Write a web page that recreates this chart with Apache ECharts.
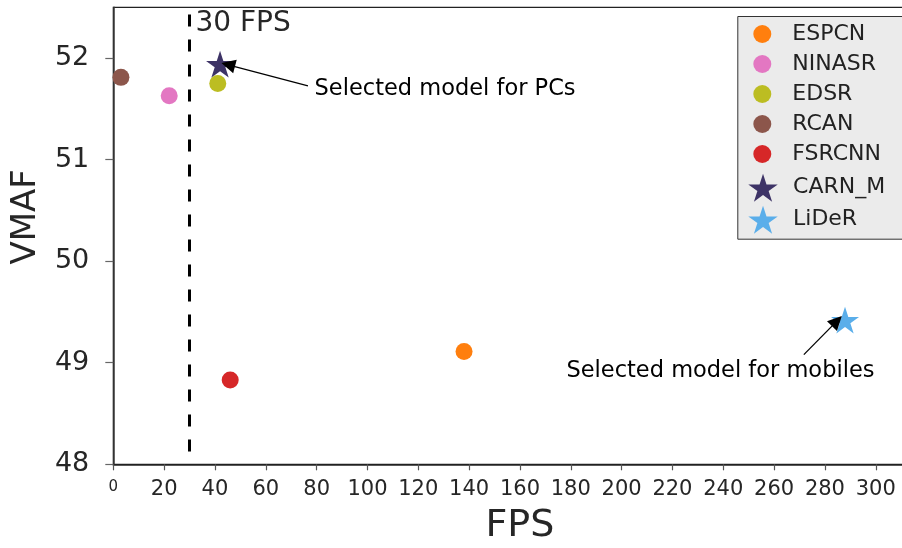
<!DOCTYPE html>
<html><head><meta charset="utf-8">
<script src="https://cdn.jsdelivr.net/npm/echarts@6/dist/echarts.min.js"></script>
<style>html,body{margin:0;padding:0;background:#fff}#c{width:902px;height:548px}</style>
</head><body><div id="c"></div>
<script>
// ---- data ----
const models = ['ESPCN', 'NINASR', 'EDSR', 'RCAN', 'FSRCNN', 'CARN_M', 'LiDeR'];
const fps    = [138.0, 22.0, 41.1, 3.0, 46.0, 42.0, 287.9];
const vmaf   = [49.11, 51.63, 51.75, 51.81, 48.83, 51.94, 49.42];
const colors = ['#ff7f0e', '#e377c2', '#bcbd22', '#8c564b', '#d62728', '#3d3366', '#5aaeea'];
const markers = ['circle', 'circle', 'circle', 'circle', 'circle', 'star', 'star'];
const xTicks = [0, 20, 40, 60, 80, 100, 120, 140, 160, 180, 200, 220, 240, 260, 280, 300];
const yTicks = [48, 49, 50, 51, 52];
const fpsLimit = 30;
const fpsLimitTop = 52.43;
const noteTexts = ['30 FPS', 'Selected model for PCs', 'Selected model for mobiles'];
const notePos = [[32.1, 52.335], [79.0, 51.694], [178.1, 48.92]];
const arrowFrom = [[76.6, 51.727], [271.7, 49.08]];
const arrowTo   = [[45.2, 51.934], [284.7, 49.41]];

const STAR = 'path://M100 0L122.45 69.1L195.11 69.1L136.33 111.8L158.78 180.9L100 138.2L41.22 180.9L63.67 111.8L4.89 69.1L77.55 69.1Z';
const FONT = 'DejaVu Sans';

const series = models.map((m, i) => ({
  type: 'scatter',
  name: m,
  data: [[fps[i], vmaf[i]]],
  symbol: markers[i] === 'star' ? STAR : 'circle',
  symbolKeepAspect: true,
  symbolSize: markers[i] === 'star' ? 28 : 17,
  itemStyle: { color: colors[i], opacity: 1 },
  z: 3
}));

const markData = [
  [{ coord: [fpsLimit, fpsLimitTop], symbol: 'none', lineStyle: { type: [12, 13], width: 3, color: '#000' } },
   { coord: [fpsLimit, 48], symbol: 'none' }]
];
arrowFrom.forEach((a, i) => {
  markData.push([
    { coord: a, symbol: 'none', lineStyle: { type: 'solid', width: 1.3, color: '#000' } },
    { coord: arrowTo[i], symbol: 'triangle', symbolSize: 14 }
  ]);
});

series.push({
  type: 'scatter',
  name: 'notes',
  data: noteTexts.map((t, i) => ({
    value: notePos[i],
    name: t,
    label: i === 0 ? { fontSize: 28, color: '#262626' } : {}
  })),
  symbolSize: 1,
  itemStyle: { color: '#fff', opacity: 0 },
  label: {
    show: true, position: 'right', distance: 0, opacity: 1,
    formatter: p => p.name,
    fontFamily: FONT, fontSize: 22.5, color: '#000'
  },
  silent: true,
  markLine: {
    silent: true,
    animation: false,
    symbol: ['none', 'none'],
    label: { show: false },
    data: markData
  }
});

const chart = echarts.init(document.getElementById('c'), null, { renderer: 'canvas' });
chart.setOption({
  animation: false,
  backgroundColor: '#fff',
  grid: {
    left: 113.3, right: -24.6, top: 7.3, bottom: 83.7,
    show: true, borderColor: '#222', borderWidth: 1.2,
    outerBoundsMode: 'none', containLabel: false
  },
  xAxis: {
    type: 'value', min: 0, max: 320, interval: 20,
    name: 'FPS', nameLocation: 'middle', nameGap: 43,
    nameTextStyle: { fontFamily: FONT, fontSize: 38, color: '#262626' },
    axisLine: { show: true, lineStyle: { color: '#222', width: 1.5 } },
    axisTick: { show: true, length: 6, customValues: xTicks, lineStyle: { color: '#555', width: 1.2 } },
    axisLabel: {
      customValues: xTicks, margin: 15,
      fontFamily: FONT, fontSize: 21, color: '#262626',
      formatter: v => (v === 0 ? '{s|0}' : String(v)),
      rich: { s: { fontFamily: FONT, fontSize: 15, color: '#262626' } }
    },
    splitLine: { show: false }
  },
  yAxis: {
    type: 'value', min: 48, max: 52.5, interval: 1,
    name: 'VMAF', nameLocation: 'middle', nameGap: 70,
    nameTextStyle: { fontFamily: FONT, fontSize: 34, color: '#262626', padding: [0, 0, 0, 38] },
    axisLine: { show: true, lineStyle: { color: '#333', width: 1.5 } },
    axisTick: { show: true, length: 8, customValues: yTicks, lineStyle: { color: '#666', width: 1.2 } },
    axisLabel: {
      customValues: yTicks, margin: 24,
      fontFamily: FONT, fontSize: 27, color: '#262626'
    },
    splitLine: { show: false }
  },
  graphic: [{
    type: 'rect', left: 737.3, top: 16, z: 0,
    shape: { width: 200, height: 222.7 },
    style: { fill: '#ebebeb', stroke: '#333', lineWidth: 1 }
  }],
  legend: [{
    data: models.slice(0, 5), orient: 'vertical', left: 753.3, top: 23,
    itemWidth: 50, itemHeight: 18, itemGap: 8, padding: 0, selectedMode: false,
    textStyle: { fontFamily: FONT, fontSize: 22, lineHeight: 22, color: '#222' }, z: 5
  }, {
    data: models.slice(5), orient: 'vertical', left: 748.3, top: 173.7,
    itemWidth: 50, itemHeight: 28, itemGap: 4, padding: 0, selectedMode: false,
    textStyle: { fontFamily: FONT, fontSize: 22, lineHeight: 22, color: '#222' }, z: 5
  }],
  series: series
});
</script></body></html>
